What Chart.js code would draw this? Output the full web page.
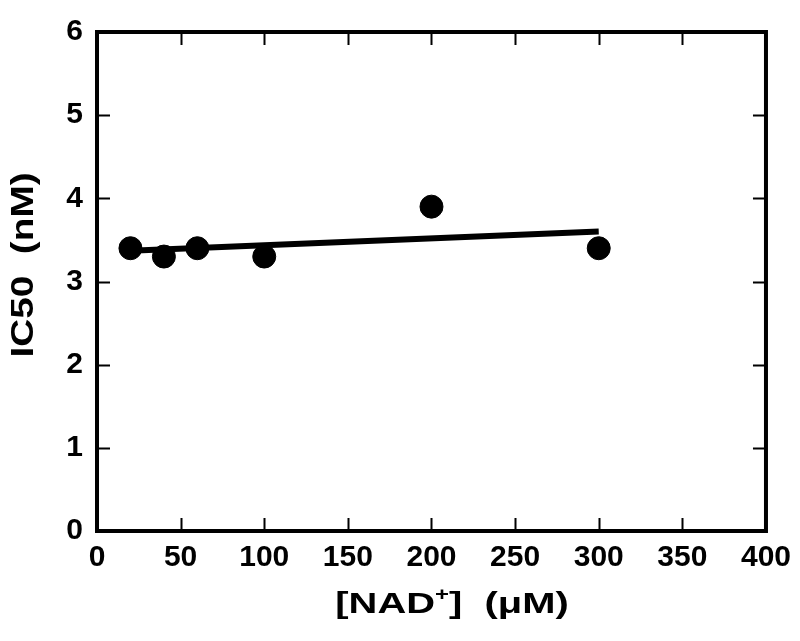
<!DOCTYPE html>
<html>
<head>
<meta charset="utf-8">
<script src="https://cdn.jsdelivr.net/npm/chart.js@4"></script>
<style>
  html, body { margin: 0; padding: 0; background: #fff; }
  #wrap { width: 800px; height: 641px; }
</style>
</head>
<body>
<div id="wrap"><canvas id="ic50Chart"></canvas></div>
<script>
// values
var nad = [20, 40, 60, 100, 200, 300];
var ic50 = [3.4, 3.3, 3.4, 3.3, 3.9, 3.4];
// straight fit line end points
var fitX = [20, 300];
var fitY = [3.37, 3.60];
var xTicks = [0, 50, 100, 150, 200, 250, 300, 350, 400];
var yTicks = [0, 1, 2, 3, 4, 5, 6];

var FONT = '"Liberation Sans", Arial, Helvetica, sans-serif';

// box on top/right, inward ticks on all sides, and the axis titles
var framePlugin = {
  id: 'frame',
  afterDraw: function(chart) {
    var ctx = chart.ctx;
    var a = chart.chartArea;
    var xs = chart.scales.x, ys = chart.scales.y;
    var len = 13;
    ctx.save();
    ctx.strokeStyle = '#000';
    ctx.lineWidth = 4;
    ctx.beginPath();
    ctx.moveTo(a.left - 2, a.top);
    ctx.lineTo(a.right, a.top);
    ctx.lineTo(a.right, a.bottom + 2);
    ctx.stroke();

    ctx.lineWidth = 2;
    ctx.beginPath();
    xTicks.forEach(function(v) {
      if (v == xs.min || v == xs.max) return;
      var px = Math.round(xs.getPixelForValue(v)) + 0.5;
      ctx.moveTo(px, a.bottom); ctx.lineTo(px, a.bottom - len);
      ctx.moveTo(px, a.top); ctx.lineTo(px, a.top + len);
    });
    yTicks.forEach(function(v) {
      if (v == ys.min || v == ys.max) return;
      var py = Math.round(ys.getPixelForValue(v)) + 0.5;
      ctx.moveTo(a.left, py); ctx.lineTo(a.left + len, py);
      ctx.moveTo(a.right, py); ctx.lineTo(a.right - len, py);
    });
    ctx.stroke();

    // y title (the original lettering is wide, so stretch it along the text)
    ctx.fillStyle = '#000';
    ctx.font = 'bold 31px ' + FONT;
    ctx.textAlign = 'center';
    ctx.textBaseline = 'alphabetic';
    ctx.save();
    ctx.translate(33, 265);
    ctx.rotate(-Math.PI / 2);
    ctx.scale(1.25, 1);
    ctx.fillText('IC50  (nM)', 0, 0);
    ctx.restore();

    // x title with superscript +
    var parts = ['[NAD', '+', ']  (\u03BCM)'];
    ctx.font = 'bold 30px ' + FONT;
    var w0 = ctx.measureText(parts[0]).width;
    var w2 = ctx.measureText(parts[2]).width;
    ctx.font = 'bold 18px ' + FONT;
    var w1 = ctx.measureText(parts[1]).width;
    ctx.save();
    ctx.translate(452, 613);
    ctx.scale(1.33, 1);
    var x = -(w0 + w1 + w2) / 2;
    ctx.textAlign = 'left';
    ctx.font = 'bold 30px ' + FONT;
    ctx.fillText(parts[0], x, 0);
    ctx.font = 'bold 18px ' + FONT;
    ctx.fillText(parts[1], x + w0, -13);
    ctx.font = 'bold 30px ' + FONT;
    ctx.fillText(parts[2], x + w0 + w1, 0);
    ctx.restore();
    ctx.restore();
  }
};

new Chart(document.getElementById('ic50Chart'), {
  type: 'scatter',
  data: {
    datasets: [
      {
        label: 'fit',
        data: fitX.map(function(v, i) { return { x: v, y: fitY[i] }; }),
        showLine: true,
        borderColor: '#000',
        borderWidth: 6,
        pointRadius: 0,
        borderCapStyle: 'butt'
      },
      {
        label: 'IC50',
        data: nad.map(function(v, i) { return { x: v, y: ic50[i] }; }),
        backgroundColor: '#000',
        borderColor: '#000',
        pointRadius: 11.5,
        pointHoverRadius: 11.5
      }
    ]
  },
  options: {
    responsive: true,
    maintainAspectRatio: false,
    animation: false,
    events: [],
    layout: { padding: { top: 28, right: 32, left: 0, bottom: 0 } },
    plugins: { legend: { display: false }, tooltip: { enabled: false } },
    scales: {
      x: {
        type: 'linear',
        min: 0, max: 400,
        afterFit: function(s) { s.height = 110; },
        afterBuildTicks: function(s) { s.ticks = xTicks.map(function(v) { return { value: v }; }); },
        grid: { display: false, drawTicks: false },
        border: { display: true, width: 4, color: '#000' },
        ticks: { padding: 9, color: '#000', maxRotation: 0, font: { family: FONT, size: 30, weight: 'bold' } }
      },
      y: {
        type: 'linear',
        min: 0, max: 6,
        afterFit: function(s) { s.width = 97; },
        afterBuildTicks: function(s) { s.ticks = yTicks.map(function(v) { return { value: v }; }); },
        grid: { display: false, drawTicks: false },
        border: { display: true, width: 4, color: '#000' },
        ticks: { padding: 14, color: '#000', font: { family: FONT, size: 30, weight: 'bold' } }
      }
    }
  },
  plugins: [framePlugin]
});
</script>
</body>
</html>
